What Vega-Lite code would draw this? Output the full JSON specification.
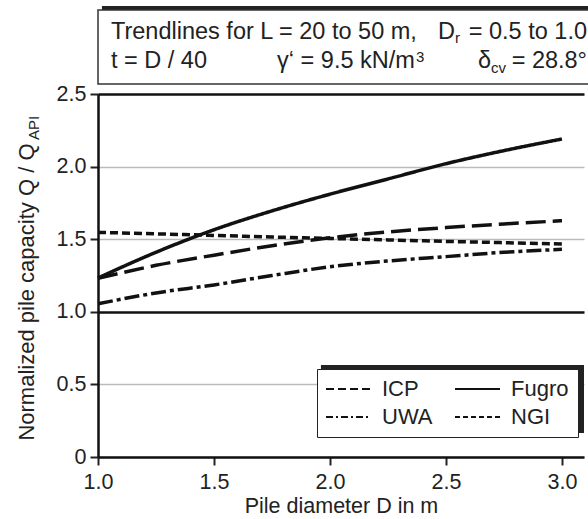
{
  "$schema": "https://vega.github.io/schema/vega-lite/v6.json",
  "width": 486,
  "height": 363,
  "autosize": {"type": "none"},
  "padding": {"left": 98, "top": 94, "right": 4, "bottom": 62},
  "background": "white",
  "config": {"view": {"stroke": null}, "font": "Liberation Sans"},
  "resolve": {"scale": {"strokeDash": "independent"}, "legend": {"strokeDash": "independent"}},
  "datasets": {
    "curves": [
      {"method": "ICP", "D": 1.0, "Q": 1.23},
      {"method": "ICP", "D": 1.25, "Q": 1.32},
      {"method": "ICP", "D": 1.5, "Q": 1.39},
      {"method": "ICP", "D": 1.75, "Q": 1.455},
      {"method": "ICP", "D": 2.0, "Q": 1.51},
      {"method": "ICP", "D": 2.25, "Q": 1.55},
      {"method": "ICP", "D": 2.5, "Q": 1.58},
      {"method": "ICP", "D": 2.75, "Q": 1.605},
      {"method": "ICP", "D": 3.0, "Q": 1.627},
      {"method": "Fugro", "D": 1.0, "Q": 1.233},
      {"method": "Fugro", "D": 1.25, "Q": 1.41},
      {"method": "Fugro", "D": 1.5, "Q": 1.565},
      {"method": "Fugro", "D": 1.75, "Q": 1.695},
      {"method": "Fugro", "D": 2.0, "Q": 1.81},
      {"method": "Fugro", "D": 2.25, "Q": 1.915},
      {"method": "Fugro", "D": 2.5, "Q": 2.02},
      {"method": "Fugro", "D": 2.75, "Q": 2.11},
      {"method": "Fugro", "D": 3.0, "Q": 2.19},
      {"method": "UWA", "D": 1.0, "Q": 1.055},
      {"method": "UWA", "D": 1.25, "Q": 1.13},
      {"method": "UWA", "D": 1.5, "Q": 1.185},
      {"method": "UWA", "D": 1.75, "Q": 1.25},
      {"method": "UWA", "D": 2.0, "Q": 1.31},
      {"method": "UWA", "D": 2.25, "Q": 1.35},
      {"method": "UWA", "D": 2.5, "Q": 1.38},
      {"method": "UWA", "D": 2.75, "Q": 1.41},
      {"method": "UWA", "D": 3.0, "Q": 1.43},
      {"method": "NGI", "D": 1.0, "Q": 1.547},
      {"method": "NGI", "D": 1.25, "Q": 1.537},
      {"method": "NGI", "D": 1.5, "Q": 1.526},
      {"method": "NGI", "D": 1.75, "Q": 1.515},
      {"method": "NGI", "D": 2.0, "Q": 1.505},
      {"method": "NGI", "D": 2.25, "Q": 1.495},
      {"method": "NGI", "D": 2.5, "Q": 1.485},
      {"method": "NGI", "D": 2.75, "Q": 1.476},
      {"method": "NGI", "D": 3.0, "Q": 1.467}
    ],
    "one": [{}]
  },
  "layer": [
    {
      "data": {"name": "curves"},
      "mark": {"type": "line", "strokeWidth": 3.5, "color": "#111", "interpolate": "monotone", "strokeCap": "butt"},
      "encoding": {
        "x": {
          "field": "D", "type": "quantitative",
          "scale": {"domain": [1, 3.095], "nice": false, "zero": false},
          "axis": {
            "title": "Pile diameter D in m", "values": [1, 1.5, 2, 2.5, 3], "format": ".1f", "grid": false,
            "tickSize": 8, "tickWidth": 2, "tickColor": "#222", "domainColor": "#111", "domainWidth": 2.5,
            "labelFontSize": 21.5, "labelColor": "#222", "labelPadding": 6, "labelFont": "Liberation Sans", "labelFlush": false,
            "titleFont": "Liberation Sans", "titleFontSize": 21.5, "titleFontWeight": "normal", "titleColor": "#222", "titlePadding": 3
          }
        },
        "y": {
          "field": "Q", "type": "quantitative",
          "scale": {"domain": [0, 2.5], "nice": false},
          "axis": {
            "title": "Normalized pile capacity Q / Q", "values": [0, 0.5, 1, 1.5, 2, 2.5],
            "labelExpr": "datum.value == 0 ? '0' : format(datum.value, '.1f')",
            "grid": true,
            "gridColor": {"condition": {"test": "datum.value == 1 || datum.value == 2.5", "value": "#111"}, "value": "#bbbbbb"},
            "gridWidth": {"condition": {"test": "datum.value == 1 || datum.value == 2.5", "value": 2.5}, "value": 1.5},
            "tickSize": 8, "tickWidth": 2, "tickColor": "#222", "domainColor": "#111", "domainWidth": 2.5,
            "labelFontSize": 21.5, "labelColor": "#222", "labelPadding": 4, "labelFont": "Liberation Sans", "labelFlush": false,
            "titleFont": "Liberation Sans", "titleFontSize": 22, "titleFontWeight": "normal", "titleColor": "#222",
            "titleAnchor": "end", "titleY": 49, "titlePadding": 18
          }
        },
        "strokeDash": {
          "field": "method", "type": "nominal",
          "scale": {"domain": ["ICP", "Fugro", "UWA", "NGI"], "range": [[20, 7], [1, 0], [15, 4, 4, 4], [8, 4]]},
          "legend": null
        }
      }
    },
    {
      "data": {"name": "curves"},
      "mark": {"type": "line", "strokeWidth": 2, "color": "#111", "opacity": 0},
      "encoding": {
        "x": {"field": "D", "type": "quantitative"},
        "y": {"field": "Q", "type": "quantitative"},
        "strokeDash": {
          "field": "method", "type": "nominal",
          "scale": {"domain": ["ICP", "Fugro", "UWA", "NGI"], "range": [[8, 4], [1, 0], [7, 3, 2, 3], [5, 3]]},
          "legend": {
            "title": null, "orient": "none", "legendX": 219, "legendY": 275, "columns": 2, "direction": "horizontal",
            "columnPadding": 18, "rowPadding": 6, "padding": 9,
            "strokeColor": "#222", "fillColor": "white",
            "symbolType": "M-1.833,0H5.667", "symbolSize": 144, "symbolStrokeWidth": 2, "symbolStrokeColor": "#111", "symbolOpacity": 1,
            "labelOffset": 34, "labelFontSize": 22, "labelFont": "Liberation Sans", "labelColor": "#222"
          }
        }
      }
    },
    {
      "data": {"name": "one"},
      "mark": {"type": "rect", "fill": "#222"},
      "encoding": {
        "x": {"datum": 1.961, "type": "quantitative"},
        "x2": {"datum": 3.095},
        "y": {"datum": 0.634, "type": "quantitative"},
        "y2": {"datum": 0.165}
      }
    },
    {
      "data": {"name": "one"},
      "mark": {"type": "rect", "fill": "#222"},
      "encoding": {
        "x": {"datum": 1.017, "type": "quantitative"},
        "x2": {"datum": 3.4},
        "y": {"datum": 3.106, "type": "quantitative"},
        "y2": {"datum": 2.596}
      }
    },
    {
      "data": {"name": "one"},
      "mark": {"type": "rect", "fill": "white", "stroke": "#333", "strokeWidth": 1.5},
      "encoding": {
        "x": {"datum": 1.0, "type": "quantitative"},
        "x2": {"datum": 3.4},
        "y": {"datum": 3.0785, "type": "quantitative"},
        "y2": {"datum": 2.569}
      }
    },
    {
      "data": {"name": "one"},
      "mark": {"type": "text", "text": "Trendlines for L = 20 to 50 m,", "align": "left", "baseline": "alphabetic", "fontSize": 23.5, "font": "Liberation Sans", "color": "#222"},
      "encoding": {"x": {"datum": 1.056, "type": "quantitative"}, "y": {"datum": 2.879, "type": "quantitative"}}
    },
    {
      "data": {"name": "one"},
      "mark": {"type": "text", "text": "D", "align": "left", "baseline": "alphabetic", "fontSize": 23.5, "font": "Liberation Sans", "color": "#222"},
      "encoding": {"x": {"datum": 2.4655, "type": "quantitative"}, "y": {"datum": 2.879, "type": "quantitative"}}
    },
    {
      "data": {"name": "one"},
      "mark": {"type": "text", "text": "r", "align": "left", "baseline": "alphabetic", "fontSize": 15, "font": "Liberation Sans", "color": "#222"},
      "encoding": {"x": {"datum": 2.539, "type": "quantitative"}, "y": {"datum": 2.851, "type": "quantitative"}}
    },
    {
      "data": {"name": "one"},
      "mark": {"type": "text", "text": "= 0.5 to 1.0", "align": "right", "baseline": "alphabetic", "fontSize": 23.5, "font": "Liberation Sans", "color": "#222"},
      "encoding": {"x": {"datum": 3.108, "type": "quantitative"}, "y": {"datum": 2.879, "type": "quantitative"}}
    },
    {
      "data": {"name": "one"},
      "mark": {"type": "text", "text": "t = D / 40", "align": "left", "baseline": "alphabetic", "fontSize": 23.5, "font": "Liberation Sans", "color": "#222"},
      "encoding": {"x": {"datum": 1.056, "type": "quantitative"}, "y": {"datum": 2.679, "type": "quantitative"}}
    },
    {
      "data": {"name": "one"},
      "mark": {"type": "text", "text": "γ‘ = 9.5 kN/m", "align": "left", "baseline": "alphabetic", "fontSize": 23.5, "font": "Liberation Sans", "color": "#222"},
      "encoding": {"x": {"datum": 1.772, "type": "quantitative"}, "y": {"datum": 2.679, "type": "quantitative"}}
    },
    {
      "data": {"name": "one"},
      "mark": {"type": "text", "text": "3", "align": "left", "baseline": "alphabetic", "fontSize": 15, "font": "Liberation Sans", "color": "#222"},
      "encoding": {"x": {"datum": 2.371, "type": "quantitative"}, "y": {"datum": 2.72, "type": "quantitative"}}
    },
    {
      "data": {"name": "one"},
      "mark": {"type": "text", "text": "δ", "align": "left", "baseline": "alphabetic", "fontSize": 23.5, "font": "Liberation Sans", "color": "#222"},
      "encoding": {"x": {"datum": 2.638, "type": "quantitative"}, "y": {"datum": 2.679, "type": "quantitative"}}
    },
    {
      "data": {"name": "one"},
      "mark": {"type": "text", "text": "cv", "align": "left", "baseline": "alphabetic", "fontSize": 15, "font": "Liberation Sans", "color": "#222"},
      "encoding": {"x": {"datum": 2.694, "type": "quantitative"}, "y": {"datum": 2.645, "type": "quantitative"}}
    },
    {
      "data": {"name": "one"},
      "mark": {"type": "text", "text": "= 28.8°", "align": "right", "baseline": "alphabetic", "fontSize": 23.5, "font": "Liberation Sans", "color": "#222"},
      "encoding": {"x": {"datum": 3.108, "type": "quantitative"}, "y": {"datum": 2.679, "type": "quantitative"}}
    },
    {
      "data": {"name": "one"},
      "mark": {"type": "text", "text": "API", "angle": -90, "align": "left", "baseline": "alphabetic", "fontSize": 15, "font": "Liberation Sans", "color": "#222"},
      "encoding": {"x": {"datum": 0.746, "type": "quantitative"}, "y": {"datum": 2.183, "type": "quantitative"}}
    }
  ]
}
